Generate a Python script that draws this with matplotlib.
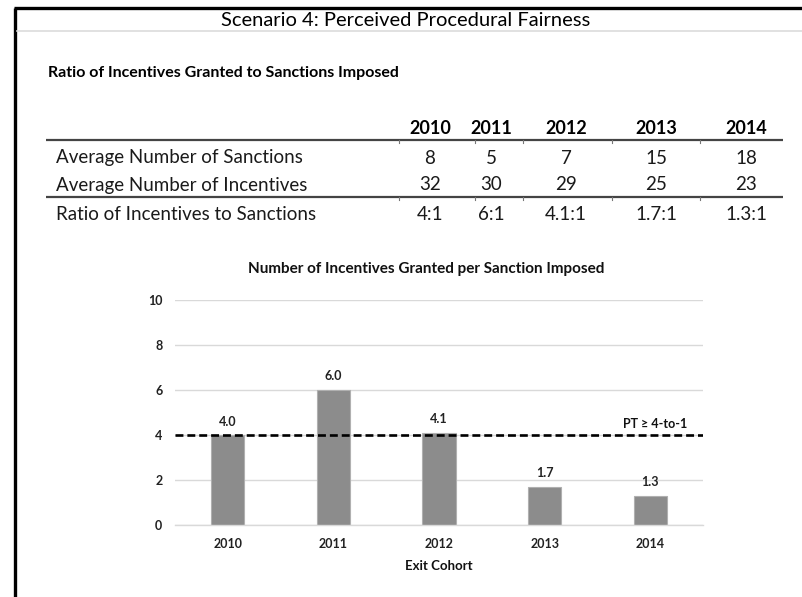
import matplotlib
matplotlib.use('Agg')
import matplotlib.pyplot as plt

years = ['2010', '2011', '2012', '2013', '2014']
sanctions = [8, 5, 7, 15, 18]
incentives = [32, 30, 29, 25, 23]
ratio_text = ['4:1', '6:1', '4.1:1', '1.7:1', '1.3:1']
ratio = [4.0, 6.0, 4.1, 1.7, 1.3]
threshold = 4
row_names = ['Average Number of Sanctions', 'Average Number of Incentives',
             'Ratio of Incentives to Sanctions']

W, H = 803, 597
plt.rcParams['font.family'] = ['Lato', 'DejaVu Sans']

fig = plt.figure(figsize=(W / 100, H / 100), dpi=100)

# background layer in pixel coords for the page frame and the table
bg = fig.add_axes([0, 0, 1, 1])
bg.set_xlim(0, W)
bg.set_ylim(H, 0)
bg.axis('off')

# frame
bg.plot([15.5, 15.5], [7.5, H], color='black', lw=2.4, solid_capstyle='butt')
bg.plot([14, W], [7.5, 7.5], color='black', lw=2.4, solid_capstyle='butt')
bg.plot([17, W], [30.5, 30.5], color='#dcdcdc', lw=1.2)

bg.text(406, 25.5, 'Scenario 4: Perceived Procedural Fairness', fontsize=14.5,
        ha='center', va='baseline', color='black')
bg.text(48, 73, 'Ratio of Incentives Granted to Sanctions Imposed', fontsize=11.5,
        fontweight='bold', ha='left', va='center', color='black')

# table
col_x = [430, 491, 566, 656, 746]
row_y = [158, 185, 215]
for x, yr in zip(col_x, years):
    bg.text(x, 128, yr, fontsize=13, fontweight='bold', ha='center', va='center',
            color='black')
rows = [[str(v) for v in sanctions], [str(v) for v in incentives], ratio_text]
for y, name, vals in zip(row_y, row_names, rows):
    bg.text(56, y, name, fontsize=13.5, ha='left', va='center', color='#1a1a1a')
    for x, v in zip(col_x, vals):
        bg.text(x, y, v, fontsize=13.5, ha='center', va='center', color='#1a1a1a')
for ly in [140, 197]:
    bg.plot([46, 783], [ly, ly], color='#444444', lw=1.6, solid_capstyle='butt')
    for tx in [399, 475, 523, 612, 700]:
        bg.plot([tx, tx], [ly, ly + 2.5], color='#777777', lw=0.8)

# bar chart
ax = fig.add_axes([175 / W, (H - 525) / H, 528 / W, 225 / H])
ax.bar(range(len(years)), ratio, width=0.315, color='#8c8c8c',
       edgecolor='#b0b0b0', linewidth=0.8, zorder=2)
ax.axhline(threshold, color='black', lw=1.9, ls=(0, (3.0, 1.5)), zorder=3)
ax.text(4.05, threshold + 0.5, 'PT \u2265 4-to-1', fontsize=9, fontweight='bold',
        ha='center', va='center', color='#111111')
for i, v in enumerate(ratio):
    ax.text(i, v + 0.6, f'{v:.1f}', fontsize=9, fontweight='bold',
            ha='center', va='center', color='#222222')

ax.set_xlim(-0.5, 4.5)
ax.set_ylim(0, 10)
ax.set_yticks([0, 2, 4, 6, 8, 10])
ax.set_xticks(range(len(years)))
ax.set_xticklabels(years)
ax.grid(axis='y', color='#d9d9d9', lw=1.0, zorder=0)
ax.set_axisbelow(True)
for s in ['top', 'right', 'left']:
    ax.spines[s].set_visible(False)
ax.spines['bottom'].set_color('#d9d9d9')
ax.spines['bottom'].set_linewidth(1.0)
ax.tick_params(length=0, labelsize=9, colors='#222222')
ax.tick_params(axis='x', pad=9.5)
ax.tick_params(axis='y', pad=9)
for lbl in ax.get_xticklabels() + ax.get_yticklabels():
    lbl.set_fontweight('bold')
ax.set_xlabel('Exit Cohort', fontsize=9.5, fontweight='bold', labelpad=7,
              color='#111111')

bg.text(426, 269, 'Number of Incentives Granted per Sanction Imposed',
        fontsize=11, fontweight='bold', ha='center', va='center', color='#111111')

fig.savefig('out.png', dpi=100)
